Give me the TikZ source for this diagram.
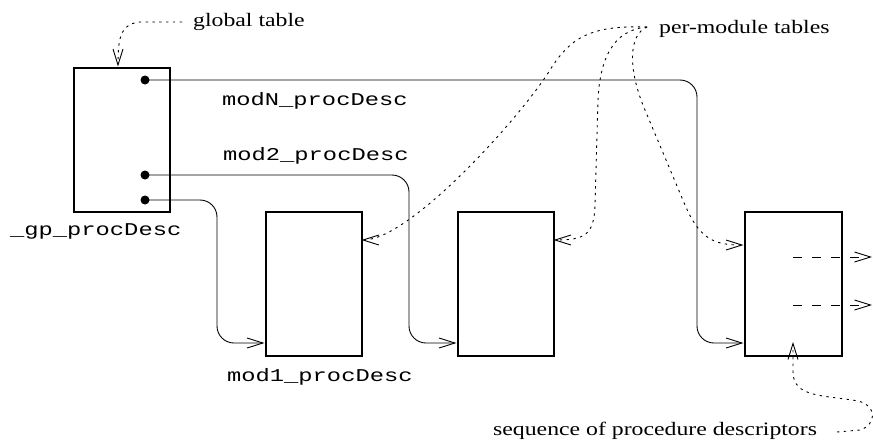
\documentclass[tikz,border=0pt]{standalone}
\usepackage{fontspec}
\setmainfont{Liberation Serif}[FakeStretch=1.25]
\setmonofont{Liberation Mono}[FakeStretch=1.32]
\usetikzlibrary{arrows.meta}
\tikzset{
  tbl/.style={draw, line width=2pt, minimum width=96pt, minimum height=144pt, inner sep=0pt, anchor=north west},
  pdot/.style={circle, fill, inner sep=0pt, minimum size=9pt},
  tip/.style={-{Straight Barb[length=16pt,width=10pt,line width=0.9pt]}},
  conn/.style={line width=0.9pt, tip},
  dotline/.style={line width=0.9pt, dash pattern=on 2.4pt off 4.4pt, tip},
  dashline/.style={line width=0.9pt, dash pattern=on 9pt off 10pt, tip},
  lbl/.style={anchor=base west, inner sep=0pt, font=\fontsize{19}{23}\selectfont},
  mlbl/.style={anchor=base west, inner sep=0pt, font=\fontsize{18}{22}\selectfont\ttfamily}
}
\begin{document}
\begin{tikzpicture}[x=1pt,y=-1pt]
\useasboundingbox (0,0) rectangle (873,440);

% tables
\node[tbl] (gt) at (73,67) {};
\node[tbl] (b1) at (265,211) {};
\node[tbl] (b2) at (457,211) {};
\node[tbl, minimum width=97pt] (b3) at (744,211) {};

% pointer dots
\node[pdot] (dN) at (145,80) {};
\node[pdot] (d2) at (145,175) {};
\node[pdot] (d1) at (145,200) {};

% labels
\node[lbl] (glob) at (193,26) {global table};
\node[lbl] (perm) at (659,33) {per-module tables};
\node[lbl] (seq) at (493,435) {sequence of procedure descriptors};
\node[mlbl] (lN) at (222,105) {modN\_procDesc};
\node[mlbl] (l2) at (223,160) {mod2\_procDesc};
\node[mlbl] (lgp) at (10,235) {\_gp\_procDesc};
\node[mlbl] (l1) at (227,381) {mod1\_procDesc};

% helper coordinates
\coordinate (cN) at (697,343);
\coordinate (c2) at (409,343);
\coordinate (c1) at (217,343);
\coordinate (inN) at (743.5,343);
\coordinate (in2) at (456.5,343);
\coordinate (in1) at (264.5,343);
\coordinate (gtTop) at (118,66.5);
\coordinate (gl0) at (182,22);
\coordinate (pm0) at (647,27);
\coordinate (b1r) at (361.5,240);
\coordinate (b2r) at (553.5,240);
\coordinate (b3l) at (743.5,245);
\coordinate (sq0) at (837,432);
\coordinate (b3in) at (793,342);
\coordinate (ds1) at (793,257);
\coordinate (de1) at (872,257);
\coordinate (ds2) at (793,305);
\coordinate (de2) at (872,305);

% pointers
\draw[conn, rounded corners=17pt] (dN.center) -| (cN) -- (inN);
\draw[conn, rounded corners=17pt] (d2.center) -| (c2) -- (in2);
\draw[conn, rounded corners=17pt] (d1.center) -| (c1) -- (in1);

% annotation arrows
\draw[dotline] (gl0) -- (140,22) .. controls (122,24) and (118,34) .. (gtTop);
\draw[dotline] (pm0) .. controls (590,25) and (570,38) .. (550,70)
   .. controls (520,118) and (410,240) .. (b1r);
\draw[dotline] (pm0) .. controls (612,30) and (600,60) .. (598,100) -- (595,205)
   .. controls (594,235) and (585,240) .. (b2r);
\draw[dotline] (pm0) .. controls (628,35) and (628,70) .. (645,110) -- (685,205)
   .. controls (700,240) and (715,245) .. (b3l);
\draw[dotline] (sq0) -- (860,430) .. controls (876,425) and (878,406) .. (858,401)
   .. controls (825,395) and (793,398) .. (793,372) -- (b3in);

% descriptor pointers
\draw[dashline] (ds1) -- (de1);
\draw[dashline] (ds2) -- (de2);
\end{tikzpicture}
\end{document}
